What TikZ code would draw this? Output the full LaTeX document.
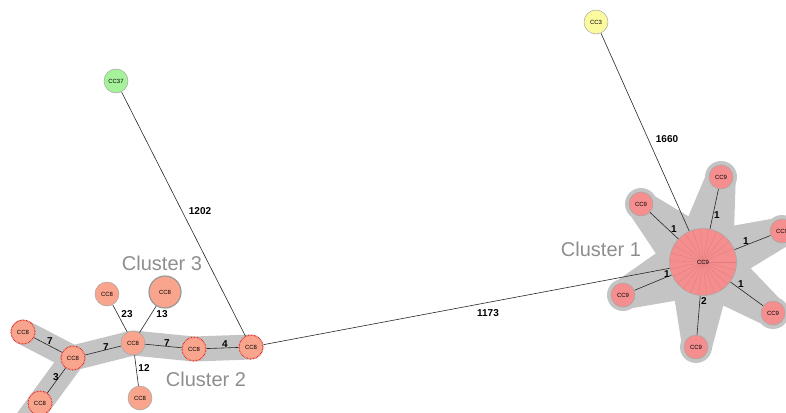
\documentclass[tikz,border=0pt]{standalone}
\usepackage{fontspec}
\setmainfont{Liberation Sans}
\usetikzlibrary{calc}
\definecolor{ceight}{HTML}{F9A58D}
\definecolor{cnine}{HTML}{F58E8E}
\definecolor{bandc}{HTML}{C4C4C4}
\definecolor{cgreen}{HTML}{A6F29B}
\definecolor{cyellow}{HTML}{FBFA9E}
\definecolor{clab}{HTML}{8E8E8E}
\definecolor{spoke}{HTML}{E07C7C}
\pgfdeclarelayer{bands}
\pgfdeclarelayer{edges}
\pgfsetlayers{bands,edges,main}
\tikzset{
  nbase/.style={circle, draw=black!35, line width=0.5pt, inner sep=0pt, minimum size=24pt, font=\fontsize{6}{6}\selectfont},
  ceightn/.style={nbase, fill=ceight},
  cninen/.style={nbase, fill=cnine},
  dotn/.style={draw=red!90!black, densely dotted, line width=1.1pt},
  conn/.style={draw=black!85, line width=0.6pt},
  elab/.style={font=\bfseries\fontsize{10}{11}\selectfont, inner sep=0pt},
  clus/.style={font=\fontsize{20}{22}\selectfont, text=clab, inner sep=0pt},
  bandline/.style={draw=bandc, line width=25pt, line cap=round, line join=round}
}
\begin{document}
\begin{tikzpicture}[x=1pt,y=-1pt]
\useasboundingbox (0,0) rectangle (786,412);
\clip (0,0) rectangle (786,412);
% isolated nodes
\node[nbase, fill=cyellow] (cc3) at (596,22) {CC3};
\node[nbase, fill=cgreen] (cc37) at (116,81) {CC37};
% cluster 2/3 nodes
\node[ceightn, dotn] (a1) at (23,332) {CC8};
\node[ceightn, dotn] (a2) at (73,358) {CC8};
\node[ceightn, dotn] (a3) at (40,403) {CC8};
\node[ceightn] (a4) at (133,343) {CC8};
\node[ceightn, dotn] (a5) at (194,349) {CC8};
\node[ceightn, dotn] (a6) at (251,347) {CC8};
\node[ceightn] (a7) at (107,294) {CC8};
\node[ceightn, minimum size=32pt, draw=black!40, line width=1.2pt] (a8) at (165,292) {CC8};
\node[ceightn] (a9) at (140,398) {CC8};
% cluster 1 nodes
\node[cninen, minimum size=67pt] (c) at (703,262) {};
\foreach \a in {0,14,...,346} \draw[spoke, line width=0.3pt] (c.center) -- ++(\a:33);
\node[font=\fontsize{6}{6}\selectfont] at (c) {CC9};
\node[cninen] (s1) at (782,231) {CC9};
\node[cninen] (s2) at (721,177) {CC9};
\node[cninen] (s3) at (641,204) {CC9};
\node[cninen] (s4) at (623,295) {CC9};
\node[cninen] (s5) at (696,347) {CC9};
\node[cninen] (s6) at (773,313) {CC9};
% bands
\begin{pgfonlayer}{bands}
\draw[bandline] (a1.center) -- (a2.center) -- (a4.center) -- (a5.center) -- (a6.center);
\draw[bandline] (a2.center) -- ($(a2)!1.8!(a3)$);
\fill[bandc] (750.6,268.3) -- (787.3,246.0) -- (776.7,218.0) -- (734.2,225.5)
  -- (735.7,180.1) -- (706.3,173.9) -- (688.4,216.3)
  -- (651.2,194.0) -- (630.8,216.0) -- (655.8,253.4)
  -- (616.4,281.1) -- (627.6,308.9) -- (674.8,300.8)
  -- (682.0,346.0) -- (712.0,348.0) -- (723.3,305.5)
  -- (764.2,325.1) -- (781.8,300.9) -- cycle;
\foreach \s in {s1,s2,s3,s4,s5,s6} \fill[bandc] (\s) circle (16);
\fill[bandc] (c) circle (40);
\end{pgfonlayer}
% edges
\begin{pgfonlayer}{edges}
\draw[conn] (a1) -- (a2);
\draw[conn] (a2) -- (a3);
\draw[conn] (a2) -- (a4);
\draw[conn] (a4) -- (a5);
\draw[conn] (a5) -- (a6);
\draw[conn] (a4) -- (a7);
\draw[conn] (a4) -- (a8);
\draw[conn] (a4) -- (a9);
\draw[conn] (cc37) -- (a6);
\draw[conn] (a6) -- (c);
\draw[conn] (cc3) -- (c);
\foreach \s in {s1,s2,s3,s4,s5,s6} \draw[conn] (c) -- (\s);
\end{pgfonlayer}
% edge labels
\node[elab] (l1) at (50,341) {7};
\node[elab] (l2) at (106,347) {7};
\node[elab] (l3) at (56,377) {3};
\node[elab] (l4) at (127,314) {23};
\node[elab] (l5) at (162,314) {13};
\node[elab] (l6) at (167,343) {7};
\node[elab] (l7) at (225,344) {4};
\node[elab] (l8) at (144,368) {12};
\node[elab] (l9) at (200,211) {1202};
\node[elab] (l10) at (488,313) {1173};
\node[elab] (l11) at (667,139) {1660};
\node[elab] (m1) at (674,229) {1};
\node[elab] (m2) at (717,215) {1};
\node[elab] (m3) at (746,241) {1};
\node[elab] (m4) at (667,274) {1};
\node[elab] (m5) at (741,284) {1};
\node[elab] (m6) at (704,301) {2};
% cluster labels
\node[clus] (k1) at (601,249) {Cluster 1};
\node[clus] (k2) at (206,379) {Cluster 2};
\node[clus] (k3) at (162,263) {Cluster 3};
\end{tikzpicture}
\end{document}
